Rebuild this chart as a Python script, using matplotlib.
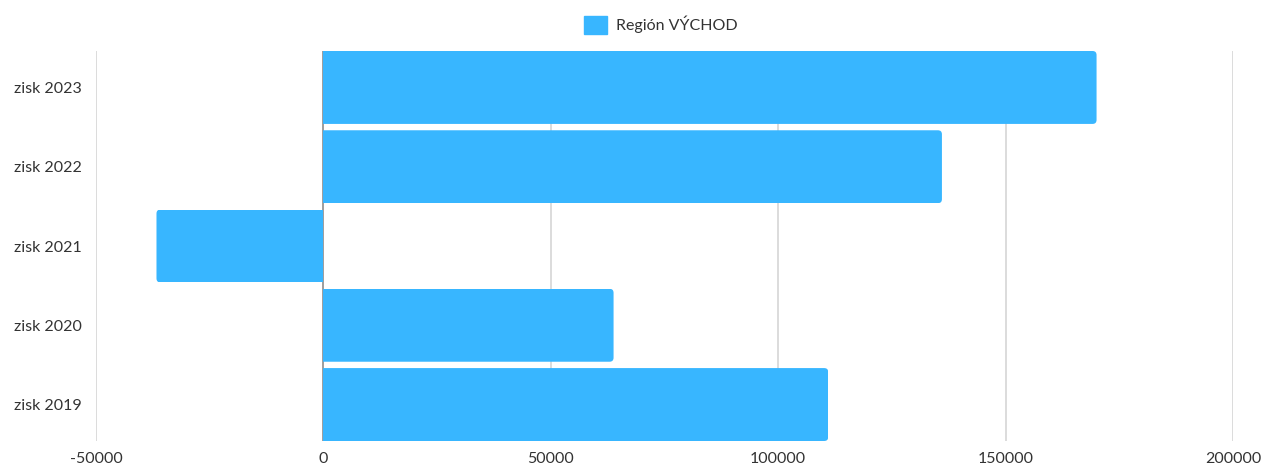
import numpy as np
import matplotlib.pyplot as plt
from matplotlib.patches import FancyBboxPatch, Patch

# ==============================
# DATA
# ==============================

categories = ["zisk 2019", "zisk 2020", "zisk 2021", "zisk 2022", "zisk 2023"]
values = [111000, 63800, -36700, 136000, 170000]
series_name = "Región VÝCHOD"
x_ticks = [-50000, 0, 50000, 100000, 150000, 200000]

BAR_COLOR = "#38b6ff"
TEXT_COLOR = "#333333"

plt.rcParams["font.family"] = ["Lato", "DejaVu Sans"]

W, H = 1265, 465
fig = plt.figure(figsize=(W / 100, H / 100), dpi=100)
ax = fig.add_axes([96 / W, (H - 441) / H, (1233 - 96) / W, (441 - 51) / H])

bar_h = 0.92
ypos = np.arange(len(categories))

ax.set_xlim(x_ticks[0], x_ticks[-1])
ax.set_ylim(-bar_h / 2, len(categories) - 1 + bar_h / 2)

# grid
for t in x_ticks:
    if t == 0:
        continue
    ax.axvline(t, color="#d9d9d9", lw=1.3, zorder=0)

# data-units per pixel, for rounded corners
ux = (x_ticks[-1] - x_ticks[0]) / (1233 - 96)
uy = (len(categories) - 1 + bar_h) / (441 - 51)
r_px = 4

bars = ax.barh(ypos, values, height=bar_h, color=BAR_COLOR, lw=0, zorder=2)

# round only the far end: clip each bar with a rounded box that
# reaches past the zero line on the other side
for rect, v in zip(bars, values):
    y0 = rect.get_y()
    ext = 20 * ux
    x0 = min(0, v) - (ext if v > 0 else 0)
    clip = FancyBboxPatch((x0, y0), abs(v) + ext, bar_h,
                          boxstyle=f"round,pad=0,rounding_size={r_px * ux}",
                          mutation_aspect=uy / ux,
                          transform=ax.transData, fc="none", ec="none")
    rect.set_clip_path(clip)

ax.axvline(0, color="#8c8c8c", lw=1.2, zorder=1)

ax.set_yticks(ypos)
ax.set_yticklabels(categories, fontsize=11.5, color=TEXT_COLOR)
ax.set_xticks(x_ticks)
ax.set_xticklabels([str(t) for t in x_ticks], fontsize=11.5, color=TEXT_COLOR)
ax.tick_params(axis="both", length=0)
ax.tick_params(axis="y", pad=10)
ax.tick_params(axis="x", pad=8)
for s in ax.spines.values():
    s.set_visible(False)

fig.legend(handles=[Patch(color=BAR_COLOR, label=series_name)],
           loc="center", bbox_to_anchor=(661 / W, 1 - 25 / H), frameon=False,
           fontsize=11.5, handlelength=1.4, handleheight=1.4, handletextpad=0.6,
           labelcolor=TEXT_COLOR)

fig.savefig("out.png", dpi=100)
